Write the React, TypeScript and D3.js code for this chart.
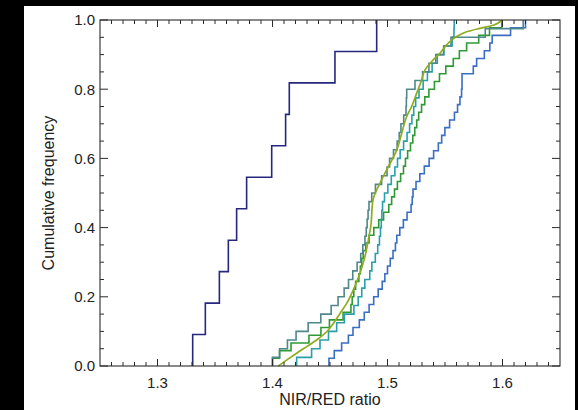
import React from "react";
import * as d3 from "d3";

// NIR/RED ratio values (sorted) for each sample; the ECDF steps to k/n at the k-th value
const navyRatios = [1.3306, 1.3416, 1.3538, 1.3616, 1.3688, 1.3775, 1.3993, 1.4114, 1.4146, 1.4543, 1.4906];

const blueRatios = [
  1.4491, 1.4537, 1.4601, 1.466, 1.47, 1.4755, 1.4798, 1.484, 1.488, 1.4919,
  1.4954, 1.4977, 1.5, 1.5024, 1.5048, 1.5069, 1.5081, 1.5107, 1.5138, 1.517,
  1.5205, 1.5215, 1.5222, 1.5248, 1.5281, 1.532, 1.5362, 1.5401, 1.5442, 1.5471,
  1.5499, 1.554, 1.5582, 1.5609, 1.563, 1.5644, 1.5648, 1.5648, 1.5746, 1.5775,
  1.5842, 1.589, 1.591, 1.607, 1.62,
];

const grayTealRatios = [
  1.4, 1.4062, 1.413, 1.4205, 1.431, 1.442, 1.451, 1.457, 1.4623, 1.4661,
  1.4698, 1.4736, 1.4767, 1.4785, 1.4804, 1.4815, 1.4823, 1.4831, 1.4839, 1.4863,
  1.4895, 1.4949, 1.4996, 1.5018, 1.5052, 1.5084, 1.5102, 1.5117, 1.5141, 1.5161,
  1.5164, 1.5167, 1.5239, 1.5305, 1.536, 1.542, 1.5488, 1.5552, 1.585, 1.618,
];

const cyanRatios = [
  1.421, 1.434, 1.4413, 1.4487, 1.4558, 1.4625, 1.4708, 1.4745, 1.4776, 1.4803,
  1.4846, 1.4864, 1.4894, 1.4915, 1.493, 1.4939, 1.4946, 1.4951, 1.4957, 1.4974,
  1.5003, 1.5033, 1.5064, 1.5087, 1.511, 1.514, 1.517, 1.5192, 1.5212, 1.5228,
  1.5245, 1.5274, 1.531, 1.5347, 1.5388, 1.5433, 1.549, 1.5562, 1.5578, 1.558,
];

const greenRatios = [
  1.4, 1.4061, 1.4161, 1.4317, 1.4421, 1.4495, 1.4614, 1.4682, 1.4693, 1.4707,
  1.4723, 1.4751, 1.4764, 1.4776, 1.4789, 1.4811, 1.484, 1.4881, 1.4924, 1.4966,
  1.5011, 1.5036, 1.5061, 1.5086, 1.5114, 1.5139, 1.5156, 1.5175, 1.52, 1.522,
  1.5237, 1.5254, 1.5271, 1.5296, 1.5324, 1.536, 1.5408, 1.5452, 1.5507, 1.5572,
  1.5625, 1.5688, 1.5793, 1.5887, 1.5993,
];

// the olive sample is dense enough to read as a smooth curve
const oliveRatio = [
  1.405, 1.4123, 1.421, 1.4297, 1.4384, 1.4471, 1.4529, 1.4587, 1.4645, 1.4703,
  1.476, 1.4804, 1.4833, 1.4854, 1.4874, 1.4949, 1.5007, 1.508, 1.5123, 1.5167,
  1.521, 1.5253, 1.5297, 1.5326, 1.5384, 1.5456, 1.5529, 1.5601, 1.5688, 1.5804,
  1.592, 1.5993,
];
const oliveFreq = [
  0, 0.017, 0.037, 0.056, 0.075, 0.099, 0.123, 0.152, 0.181, 0.22,
  0.268, 0.316, 0.364, 0.403, 0.48, 0.538, 0.576, 0.624, 0.672, 0.721,
  0.75, 0.788, 0.827, 0.856, 0.88, 0.904, 0.933, 0.952, 0.966, 0.976,
  0.985, 1.0,
];

const xMajorTicks = [1.3, 1.4, 1.5, 1.6];
const yMajorTicks = [0.0, 0.2, 0.4, 0.6, 0.8, 1.0];

const stepSeries = [
  { name: "navy", values: navyRatios, color: "#26287e" },
  { name: "blue", values: blueRatios, color: "#3a6ec4" },
  { name: "green", values: greenRatios, color: "#2f9a33" },
  { name: "cyan", values: cyanRatios, color: "#2a9fab" },
  { name: "grayTeal", values: grayTealRatios, color: "#4f878a" },
];

export default function App() {
  const W = 578, H = 410;
  const left = 100, right = 560, top = 20, bottom = 366;
  const x = d3.scaleLinear().domain([1.25, 1.65]).range([left, right]);
  const y = d3.scaleLinear().domain([0, 1]).range([bottom, top]);

  const stepLine = d3
    .line<[number, number]>()
    .x((d) => x(d[0]))
    .y((d) => y(d[1]))
    .curve(d3.curveStepAfter);

  const smoothLine = d3
    .line<[number, number]>()
    .x((d) => x(d[0]))
    .y((d) => y(d[1]))
    .curve(d3.curveMonotoneY);

  const ecdf = (vals: number[]): [number, number][] => {
    const n = vals.length;
    const pts: [number, number][] = [[vals[0], 0]];
    vals.forEach((v, i) => pts.push([v, (i + 1) / n]));
    return pts;
  };

  const olivePts: [number, number][] = oliveRatio.map((v, i) => [v, oliveFreq[i]]);

  const xMinor = d3.range(126, 165).map((i) => i / 100).filter((v) => !xMajorTicks.some((m) => Math.abs(m - v) < 1e-6));
  const yMinor = d3.range(1, 20).map((i) => i / 20).filter((v) => !yMajorTicks.some((m) => Math.abs(m - v) < 1e-6));

  const font = "'Liberation Sans', Arial, Helvetica, sans-serif";
  const axisColor = "#2a2a2a";

  return (
    <svg width={W} height={H} style={{ position: "absolute", left: 0, top: 0 }}>
      <rect x={0} y={0} width={W} height={H} fill="#000" />
      <rect x={24} y={6} width={551} height={H - 6} fill="#fff" />

      <defs>
        <clipPath id="plotclip">
          <rect x={left} y={top - 1} width={right - left} height={bottom - top + 2} />
        </clipPath>
      </defs>
      <g clipPath="url(#plotclip)">
        {stepSeries.map((s) => (
          <path key={s.name} d={stepLine(ecdf(s.values)) || ""} fill="none" stroke={s.color} strokeWidth={1.6} />
        ))}
        <path d={smoothLine(olivePts) || ""} fill="none" stroke="#8fac1e" strokeWidth={1.7} />
      </g>

      {/* frame */}
      <rect x={left} y={top} width={right - left} height={bottom - top} fill="none" stroke={axisColor} strokeWidth={1.1} />

      {/* x ticks bottom & top */}
      {xMajorTicks.map((t) => (
        <g key={"xM" + t}>
          <line x1={x(t)} x2={x(t)} y1={bottom} y2={bottom - 7} stroke={axisColor} />
          <line x1={x(t)} x2={x(t)} y1={top} y2={top + 7} stroke={axisColor} />
          <text x={x(t)} y={388} textAnchor="middle" fontFamily={font} fontSize={15} fill="#222">
            {t.toFixed(1)}
          </text>
        </g>
      ))}
      {xMinor.map((t) => (
        <g key={"xm" + t}>
          <line x1={x(t)} x2={x(t)} y1={bottom} y2={bottom - 4} stroke={axisColor} />
          <line x1={x(t)} x2={x(t)} y1={top} y2={top + 4} stroke={axisColor} />
        </g>
      ))}

      {/* y ticks left & right */}
      {yMajorTicks.map((t) => (
        <g key={"yM" + t}>
          <line x1={left} x2={left + 8} y1={y(t)} y2={y(t)} stroke={axisColor} />
          <line x1={right} x2={right - 8} y1={y(t)} y2={y(t)} stroke={axisColor} />
          <text x={95} y={y(t)} dy="0.36em" textAnchor="end" fontFamily={font} fontSize={15} fill="#222">
            {t.toFixed(1)}
          </text>
        </g>
      ))}
      {yMinor.map((t) => (
        <g key={"ym" + t}>
          <line x1={left} x2={left + 4} y1={y(t)} y2={y(t)} stroke={axisColor} />
          <line x1={right} x2={right - 4} y1={y(t)} y2={y(t)} stroke={axisColor} />
        </g>
      ))}

      <text x={(left + right) / 2} y={405} textAnchor="middle" fontFamily={font} fontSize={16} fill="#222">
        NIR/RED ratio
      </text>
      <text
        transform={`translate(54, ${(top + bottom) / 2}) rotate(-90)`}
        textAnchor="middle"
        fontFamily={font}
        fontSize={16}
        fill="#222"
      >
        Cumulative frequency
      </text>
    </svg>
  );
}
